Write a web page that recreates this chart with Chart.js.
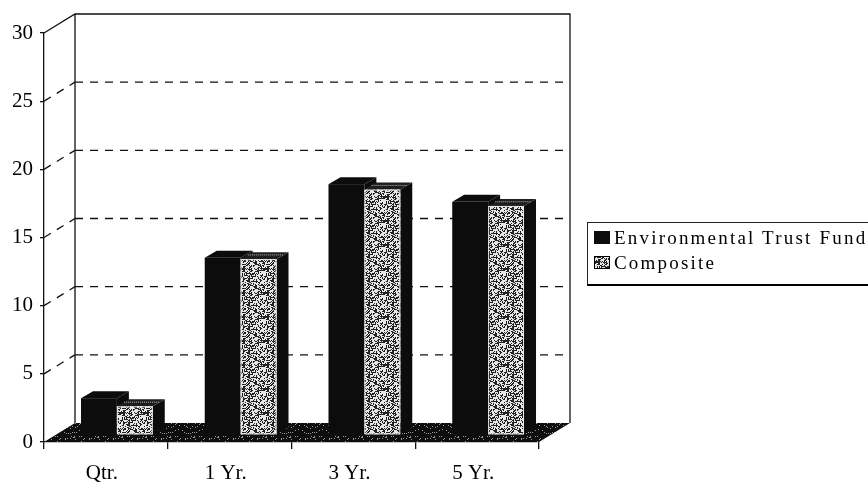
<!DOCTYPE html>
<html>
<head>
<meta charset="utf-8">
<script src="https://cdn.jsdelivr.net/npm/chart.js@4"></script>
<style>
  html, body { margin: 0; padding: 0; background: #fff; }
  #wrap { position: relative; width: 868px; height: 484px; overflow: hidden; }
  #chart { position: absolute; left: 0; top: 0; }
  #legend {
    position: absolute; left: 587px; top: 222px; width: 300px; height: 64px;
    box-sizing: border-box; border: 1px solid #222; border-bottom: 2px solid #000;
    font-family: "Liberation Serif", "Times New Roman", serif; font-size: 19px;
    letter-spacing: 2.2px; color: #000;
  }
  .item { position: absolute; left: 6px; height: 24px; line-height: 24px; white-space: nowrap; }
  .sw { position: absolute; left: 0; top: 5px; width: 16px; height: 13px; box-sizing: border-box; }
  .txt { position: absolute; left: 20px; top: 0; }
</style>
</head>
<body>
<div id="wrap">
  <canvas id="chart" width="868" height="484"></canvas>
  <div id="legend"></div>
</div>
<script>
// Annual return periods and the two series compared
const categories = ['Qtr.', '1 Yr.', '3 Yr.', '5 Yr.'];
const trustFund = [2.7, 13.0, 18.4, 17.1];
const composite = [2.1, 12.9, 18.0, 16.8];
const seriesNames = ['Environmental Trust Fund', 'Composite'];
const yTicks = [0, 5, 10, 15, 20, 25, 30];

// Depth geometry for the pseudo-3D look
const WALL_DX = 31, WALL_DY = -19;   // back wall offset from the front axis plane
const BAR_SX = 11, BAR_SY = -7;      // where bar fronts sit inside the depth
const BAR_DX = 12, BAR_DY = -7;      // thickness of each column

const serif = '"Liberation Serif", "Times New Roman", serif';

// fixed integer hash, used only to scatter texture dots in a tile
function hash(x, y) {
  let h = (x * 374761393 + y * 668265263) | 0;
  h = Math.imul(h ^ (h >>> 13), 1274126177);
  return ((h ^ (h >>> 16)) >>> 0) / 4294967296;
}

function makeTexture(base, dot, size, density) {
  const c = document.createElement('canvas');
  c.width = size; c.height = size;
  const g = c.getContext('2d');
  g.fillStyle = base; g.fillRect(0, 0, size, size);
  g.fillStyle = dot;
  for (let py = 0; py < size; py++)
    for (let px = 0; px < size; px++)
      if (hash(px, py) < density) g.fillRect(px, py, 1, 1);
  return c;
}

const ctx = document.getElementById('chart').getContext('2d');
// dithered mid-grey for the composite columns
const stipple = ctx.createPattern(makeTexture('#e6e6e6', '#222', 24, 0.42), 'repeat');
// near-black floor with sparse light specks
const floorTex = ctx.createPattern(makeTexture('#0e0e0e', '#9a9a9a', 24, 0.07), 'repeat');

function poly(c, pts, fill) {
  c.beginPath();
  c.moveTo(pts[0][0], pts[0][1]);
  for (let k = 1; k < pts.length; k++) c.lineTo(pts[k][0], pts[k][1]);
  c.closePath();
  c.fillStyle = fill;
  c.fill();
}

const depthPlugin = {
  id: 'depth',
  beforeDatasetsDraw(chart) {
    const c = chart.ctx;
    const a = chart.chartArea;
    const ys = chart.scales.y;
    const y0 = ys.getPixelForValue(0);
    const yTop = ys.getPixelForValue(30);
    const bl = a.left + WALL_DX, br = a.right + WALL_DX;

    c.save();
    c.strokeStyle = '#111';
    c.lineWidth = 1.3;

    // dashed gridlines on the back wall plus their slanted links on the side wall
    c.setLineDash([8, 7]);
    yTicks.filter(v => v > 0 && v < 30).forEach(v => {
      const yp = ys.getPixelForValue(v);
      c.beginPath();
      c.moveTo(bl, yp + WALL_DY);
      c.lineTo(br, yp + WALL_DY);
      c.stroke();
      c.beginPath();
      c.moveTo(a.left, yp);
      c.lineTo(bl, yp + WALL_DY);
      c.stroke();
    });
    c.setLineDash([]);

    // wall frame
    c.beginPath();
    c.moveTo(a.left, yTop);
    c.lineTo(bl, yTop + WALL_DY);
    c.lineTo(br, yTop + WALL_DY);
    c.lineTo(br, y0 + WALL_DY);
    c.moveTo(bl, yTop + WALL_DY);
    c.lineTo(bl, y0 + WALL_DY);
    c.stroke();

    // floor
    poly(c, [[a.left, y0], [a.right, y0], [br, y0 + WALL_DY], [bl, y0 + WALL_DY]], floorTex);

    // columns, category by category so each one overlaps its left neighbour
    const metas = chart.data.datasets.map((d, i) => chart.getDatasetMeta(i));
    for (let i = 0; i < categories.length; i++) {
      metas.forEach((meta, di) => {
        const el = meta.data[i];
        const w = el.width;
        const x0 = el.x - w / 2 + BAR_SX, x1 = el.x + w / 2 + BAR_SX;
        const top = el.y + BAR_SY, bot = el.base + BAR_SY;
        const front = di === 0 ? '#0c0c0c' : stipple;
        const topFace = di === 0 ? '#0c0c0c' : '#1e1e1e';
        // side
        poly(c, [[x1, top], [x1 + BAR_DX, top + BAR_DY], [x1 + BAR_DX, bot + BAR_DY], [x1, bot]], '#0c0c0c');
        // top
        poly(c, [[x0, top], [x0 + BAR_DX, top + BAR_DY], [x1 + BAR_DX, top + BAR_DY], [x1, top]], topFace);
        // front
        c.fillStyle = front;
        c.fillRect(x0, top, x1 - x0, bot - top);
        if (di === 1) {
          c.strokeStyle = '#e8e8e8';
          c.lineWidth = 1;
          c.strokeRect(x0 + 0.5, top + 0.5, x1 - x0 - 1, bot - top - 1);
          c.strokeStyle = '#bdbdbd';
          c.setLineDash([1, 1]);
          c.beginPath();
          c.moveTo(x0 + BAR_DX * 0.6, top + BAR_DY * 0.6);
          c.lineTo(x1 + BAR_DX * 0.6, top + BAR_DY * 0.6);
          c.stroke();
          c.setLineDash([]);
        }
      });
    }
    c.restore();
    return false;
  }
};

const chart = new Chart(ctx, {
  type: 'bar',
  data: {
    labels: categories,
    datasets: [
      { label: seriesNames[0], data: trustFund, backgroundColor: '#0c0c0c' },
      { label: seriesNames[1], data: composite, backgroundColor: '#a0a0a0' }
    ]
  },
  options: {
    responsive: false,
    animation: false,
    events: [],
    layout: { padding: { top: 33, right: 329, left: 0, bottom: 0 } },
    datasets: { bar: { categoryPercentage: 0.58, barPercentage: 1 } },
    plugins: { legend: { display: false }, tooltip: { enabled: false } },
    scales: {
      x: {
        type: 'category',
        offset: true,
        grid: { offset: true, drawOnChartArea: false, tickLength: 7, color: '#111', lineWidth: 1.3 },
        border: { display: true, color: '#111', width: 1.3 },
        ticks: { color: '#000', font: { family: serif, size: 21 }, padding: 12, labelOffset: -4, maxRotation: 0 },
        afterFit(s) { s.height = 42; }
      },
      y: {
        min: 0, max: 30,
        afterBuildTicks(s) { s.ticks = yTicks.map(v => ({ value: v })); },
        grid: { drawOnChartArea: false, tickLength: 4, color: '#111', lineWidth: 1.3 },
        border: { display: true, color: '#111', width: 1.3 },
        ticks: { color: '#000', font: { family: serif, size: 21 }, padding: 7 },
        afterFit(s) { s.width = 44; }
      }
    }
  },
  plugins: [depthPlugin]
});

// legend built from the dataset labels and colours
const legend = document.getElementById('legend');
chart.data.datasets.forEach((ds, i) => {
  const item = document.createElement('div');
  item.className = 'item';
  item.style.top = (3 + i * 25) + 'px';
  const sw = document.createElement('span');
  sw.className = 'sw';
  sw.style.background = ds.backgroundColor;
  if (i === 1) {
    sw.style.border = '1px solid #000';
    sw.style.backgroundImage = 'url(' + makeTexture('#e6e6e6', '#222', 24, 0.42).toDataURL() + ')';
  }
  const tx = document.createElement('span');
  tx.className = 'txt';
  tx.textContent = ds.label;
  item.appendChild(sw);
  item.appendChild(tx);
  legend.appendChild(item);
});
</script>
</body>
</html>
